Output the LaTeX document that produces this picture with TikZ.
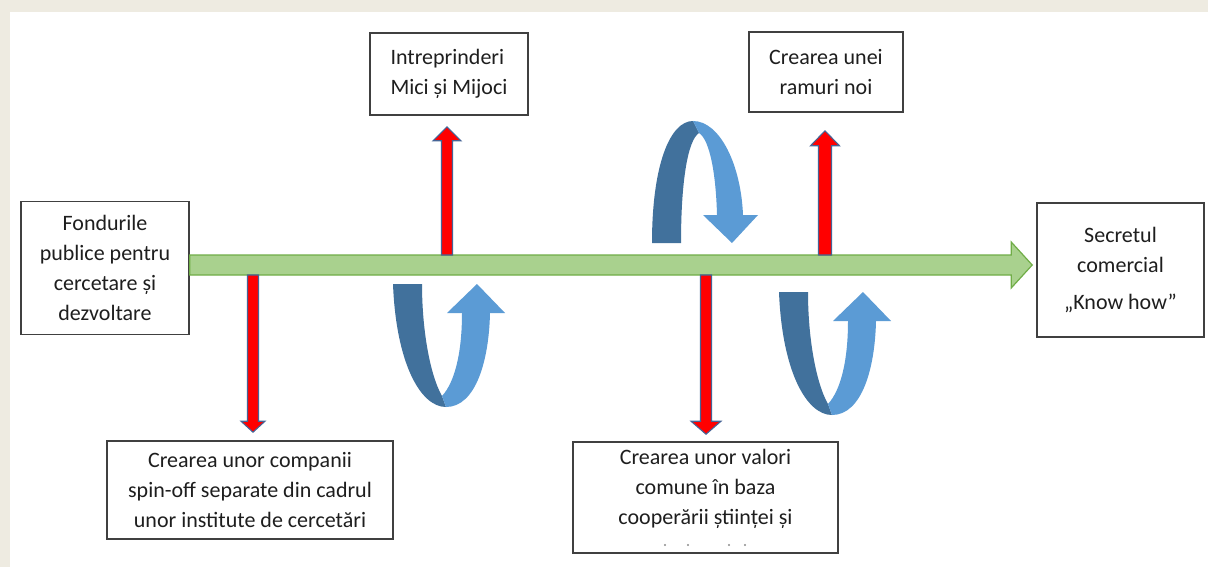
\documentclass[tikz,border=0pt]{standalone}
\usepackage{fontspec}
\setmainfont{Carlito}
\usetikzlibrary{calc}
\definecolor{beige}{RGB}{238,235,225}
\definecolor{gfill}{RGB}{169,209,142}
\definecolor{gline}{RGB}{112,173,71}
\definecolor{dkblue}{RGB}{65,113,156}
\definecolor{ltblue}{RGB}{91,155,213}
\definecolor{arrb}{RGB}{70,100,150}
\definecolor{txt}{RGB}{30,30,30}
\newcommand{\redarr}[5]{%
  \filldraw[redstyle] ($(#1)+(-#3,0)$) -- ($(#2)+(-#3,#5)$) -- ($(#2)+(-#4,#5)$) -- (#2)
    -- ($(#2)+(#4,#5)$) -- ($(#2)+(#3,#5)$) -- ($(#1)+(#3,0)$) -- cycle;}
\newcommand{\uparc}{%
  \fill[dkblue] (393,284) .. controls (396,362) and (420,407) .. (446,407) -- (442,396)
     .. controls (430,375) and (422,330) .. (422,284) -- cycle;
  \fill[ltblue] (446,407) .. controls (476,407) and (489,360) .. (490,313) -- (505,313) -- (477,284)
     -- (447,313) -- (462,313) .. controls (462,352) and (455,382) .. (442,396) -- cycle;}
\begin{document}
\begin{tikzpicture}[x=1pt,y=-1pt,
  box/.style={draw=black!75,line width=1.6pt,fill=white,inner sep=0pt,align=center,
    font=\fontsize{22}{30}\selectfont,text=txt},
  redstyle/.style={fill=red,draw=arrb,line width=1.1pt,line join=miter}]
\useasboundingbox (0,0) rectangle (1208,567);
\fill[white] (0,0) rectangle (1208,567);
\fill[beige] (0,0) rectangle (1208,12);
\fill[beige] (0,0) rectangle (10,567);

% boxes
\node[box,minimum width=168pt,minimum height=133pt] (fond) at (105,268)
  {Fondurile\\publice pentru\\cercetare și\\dezvoltare};
\node[box,minimum width=158pt,minimum height=82pt,align=left] (intr) at (449,74)
  {Intreprinderi\\Mici și Mijoci};
\node[box,minimum width=154pt,minimum height=80pt] (ramuri) at (826,72)
  {Crearea unei\\ramuri noi};
\node[box,minimum width=167pt,minimum height=134pt] (secret) at (1120.5,270)
  {Secretul\\comercial\\[7pt]„Know how”};
\node[box,minimum width=286pt,minimum height=98pt] (spin) at (250,490)
  {Crearea unor companii\\spin-off separate din cadrul\\unor institute de cercetări};
\node[box,minimum width=265pt,minimum height=111pt] (valori) at (705.5,497.5)
  {Crearea unor valori\\comune în baza\\cooperării științei și\\[-8pt]\mbox{}};
\foreach \dx in {665,688,729,745}
  \fill[black!45] (\dx,545) circle (1.1pt);

% green main arrow
\coordinate (gs) at ($(fond.east)+(0,-3)$);
\coordinate (gt) at ($(gs -| secret.west)+(-4,0)$);
\filldraw[fill=gfill,draw=gline,line width=1.2pt]
  ($(gs)+(0,-10)$) -- ($(gt)+(-21,-10)$) -- ($(gt)+(-21,-23)$) -- (gt)
  -- ($(gt)+(-21,23)$) -- ($(gt)+(-21,10)$) -- ($(gs)+(0,10)$) -- cycle;

% red arrows
\coordinate (u1b) at ($(intr.south |- gs)+(-2,-10)$);
\coordinate (u1t) at ($(intr.south)+(-2,11)$);
\redarr{u1b}{u1t}{5.5}{14}{14}
\coordinate (u2b) at ($(ramuri.south |- gs)+(-1,-10)$);
\coordinate (u2t) at ($(ramuri.south)+(-1,18)$);
\redarr{u2b}{u2t}{6.5}{14.5}{15}
\coordinate (d1b) at ($(spin.north |- gs)+(3,10)$);
\coordinate (d1t) at ($(spin.north)+(3,-8)$);
\redarr{d1b}{d1t}{5.5}{12}{-11}
\coordinate (d2b) at ($(valori.north |- gs)+(0.5,10)$);
\coordinate (d2t) at ($(valori.north)+(0.5,-7)$);
\redarr{d2b}{d2t}{5.5}{15}{-13}

% curved arrows
\fill[dkblue] (652,243) .. controls (652,165) and (670,121) .. (693,121) -- (699,133)
   .. controls (688,140) and (681,180) .. (681,243) -- cycle;
\fill[ltblue] (693,121) .. controls (720,121) and (741,165) .. (743,215) -- (758,215) -- (732,243)
   -- (703,215) -- (717,215) .. controls (716,175) and (710,140) .. (699,133) -- cycle;
\uparc
\begin{scope}[shift={(386,8)}]
\uparc
\end{scope}
\end{tikzpicture}
\end{document}
